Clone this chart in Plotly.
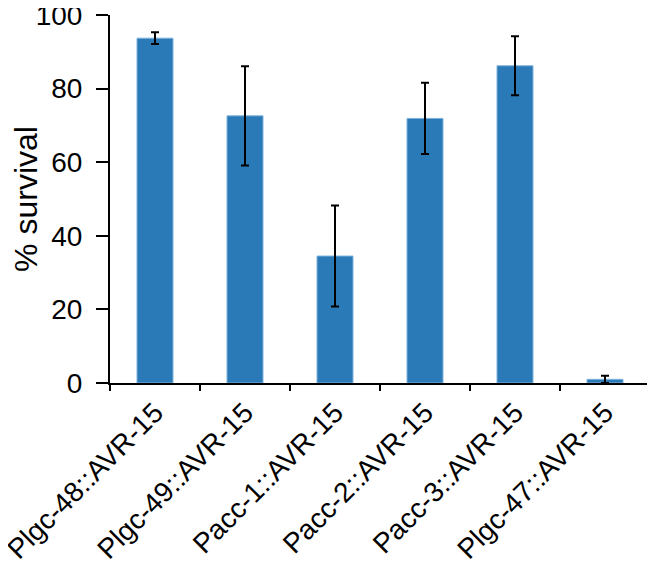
import plotly.graph_objects as go

categories = ["Plgc-48::AVR-15", "Plgc-49::AVR-15", "Pacc-1::AVR-15",
              "Pacc-2::AVR-15", "Pacc-3::AVR-15", "Plgc-47::AVR-15"]
survival = [93.7, 72.6, 34.5, 71.9, 86.2, 1.0]
err_plus = [1.6, 13.5, 13.7, 9.7, 8.0, 1.0]
err_minus = [1.6, 13.5, 13.7, 9.7, 8.0, 1.0]
y_ticks = [0, 20, 40, 60, 80, 100]

FONT = "Liberation Sans, Arial, sans-serif"

fig = go.Figure(go.Bar(
    x=categories, y=survival, width=0.4,
    marker=dict(color="#2A7AB8", line=dict(color="#7FB2DC", width=1)),
    error_y=dict(type="data", symmetric=False, array=err_plus, arrayminus=err_minus,
                 color="black", thickness=2, width=4),
))

# page body has an 8px default margin, so the figure is sized to fit the window
fig.update_layout(
    width=647, height=560,
    margin=dict(l=102, r=5, t=7, b=185),
    paper_bgcolor="white", plot_bgcolor="white",
    showlegend=False,
    font=dict(family=FONT, color="black"),
)
fig.update_xaxes(
    type="category", range=[-0.5, 5.5], automargin=False,
    showline=True, linecolor="black", linewidth=2,
    ticks="outside", tickson="boundaries", ticklen=6, tickwidth=2, tickcolor="black",
    tickangle=-45, tickfont=dict(size=28, family=FONT, color="black"),
    ticklabeloverflow="allow",
    showgrid=False, zeroline=False,
)
fig.update_yaxes(
    range=[0, 100], tickvals=y_ticks, automargin=False,
    showline=True, linecolor="black", linewidth=2,
    ticks="outside", ticklen=12, tickwidth=2, tickcolor="black",
    ticklabelstandoff=8, ticklabeloverflow="allow",
    tickfont=dict(size=28, family=FONT, color="black"),
    title=dict(text="% survival", font=dict(size=32, family=FONT, color="black"), standoff=10),
    showgrid=False, zeroline=False,
)

fig.write_html("out.html")
